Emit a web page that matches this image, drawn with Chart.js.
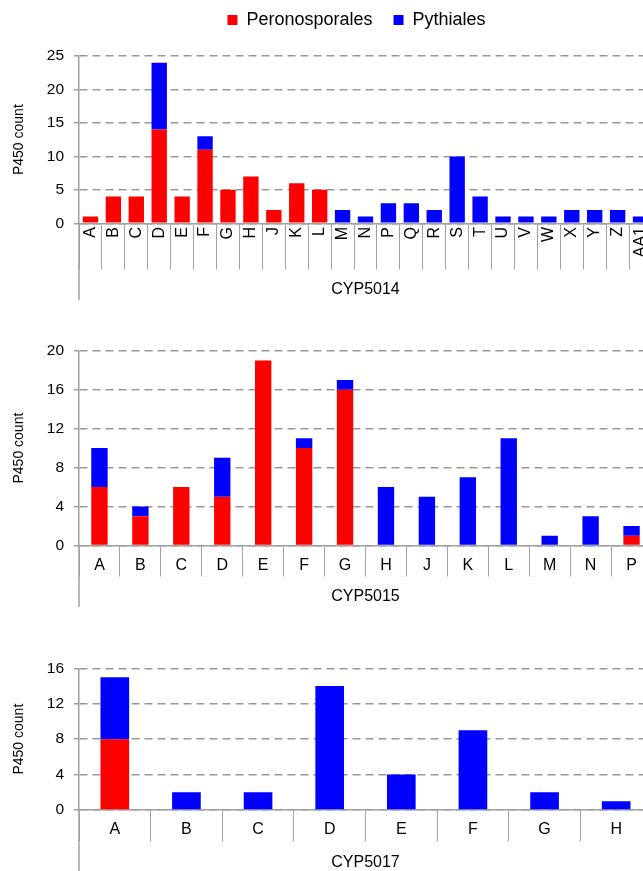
<!DOCTYPE html>
<html>
<head>
<meta charset="utf-8">
<script src="https://cdn.jsdelivr.net/npm/chart.js@4.4.1/dist/chart.umd.min.js"></script>
<style>
  html, body { margin: 0; padding: 0; background: #fff; overflow: hidden; }
  body { width: 643px; height: 871px; position: relative; }
  canvas { position: absolute; left: 0; }
</style>
</head>
<body>
<canvas id="c5014" width="713" height="305" style="top:0"></canvas>
<canvas id="c5015" width="713" height="305" style="top:310px"></canvas>
<canvas id="c5017" width="713" height="251" style="top:620px"></canvas>
<script>
// CYP5014 families
const cyp5014Labels = ['A','B','C','D','E','F','G','H','J','K','L','M','N','P','Q','R','S','T','U','V','W','X','Y','Z','AA1'];
const cyp5014Perono = [1,4,4,14,4,11,5,7,2,6,5,0,0,0,0,0,0,0,0,0,0,0,0,0,0];
const cyp5014Pythi  = [0,0,0,10,0,2,0,0,0,0,0,2,1,3,3,2,10,4,1,1,1,2,2,2,1];

// CYP5015 families
const cyp5015Labels = ['A','B','C','D','E','F','G','H','J','K','L','M','N','P'];
const cyp5015Perono = [6,3,6,5,19,10,16,0,0,0,0,0,0,1];
const cyp5015Pythi  = [4,1,0,4,0,1,1,6,5,7,11,1,3,1];

// CYP5017 families
const cyp5017Labels = ['A','B','C','D','E','F','G','H'];
const cyp5017Perono = [8,0,0,0,0,0,0,0];
const cyp5017Pythi  = [7,2,2,14,4,9,2,1];

const FONT = 'Liberation Sans, Arial, sans-serif';
const GRAY = '#a0a0a0';

// y axis line carried on down past the category labels
const axisTail = {
    id: 'axisTail',
    afterDraw(chart, args, opts) {
        const { ctx, chartArea } = chart;
        ctx.save();
        ctx.strokeStyle = GRAY;
        ctx.lineWidth = 1.5;
        ctx.beginPath();
        ctx.moveTo(chartArea.left, chartArea.bottom);
        ctx.lineTo(chartArea.left, opts.to);
        ctx.stroke();
        ctx.restore();
    }
};

function makeChart(id, labels, perono, pythi, cfg) {
    const scales = {
        x: {
            type: 'category',
            stacked: true,
            offset: true,
            grid: { offset: true, drawOnChartArea: false, tickLength: cfg.tickLen, color: GRAY, lineWidth: 1 },
            border: { display: true, color: GRAY, width: 1.5 },
            ticks: {
                autoSkip: false,
                minRotation: cfg.rotate,
                maxRotation: cfg.rotate,
                padding: cfg.labelPad,
                color: '#000',
                font: { family: FONT, size: cfg.xFont }
            },
            title: {
                display: true,
                text: cfg.title,
                color: '#000',
                font: { family: FONT, size: 16, lineHeight: 1 },
                padding: { top: 0, bottom: cfg.titlePad }
            },
            afterFit: s => { s.height = cfg.xHeight; }
        },
        y: {
            stacked: true,
            min: 0,
            max: cfg.yMax,
            grid: { color: '#999', lineWidth: 1.5, tickLength: 5, tickColor: GRAY, tickWidth: 1.5 },
            border: { display: true, color: GRAY, width: 1.5, dash: [8, 5] },
            ticks: {
                stepSize: cfg.yStep,
                padding: 10,
                color: '#000',
                font: { family: FONT, size: 15.5 }
            },
            title: {
                display: true,
                text: 'P450 count',
                color: '#000',
                font: { family: FONT, size: 14, lineHeight: 1 },
                padding: { top: 12, bottom: 0 }
            },
            afterFit: s => { s.width = 79; }
        },
        // empty right-hand space so the plot runs past the cropped edge
        spaceRight: {
            type: 'linear',
            position: 'right',
            grid: { display: false },
            border: { display: false },
            ticks: { display: false },
            afterFit: s => { s.width = 61; }
        }
    };
    if (cfg.legend) {
        // empty band between legend and plot
        scales.spaceTop = {
            type: 'linear',
            position: 'top',
            grid: { display: false },
            border: { display: false },
            ticks: { display: false },
            afterFit: s => { s.height = cfg.gapTop; }
        };
    }

    return new Chart(document.getElementById(id), {
        type: 'bar',
        data: {
            labels: labels,
            datasets: [
                { label: 'Peronosporales', data: perono, backgroundColor: '#ff0000', xAxisID: 'x', yAxisID: 'y',
                  barPercentage: cfg.barPct, categoryPercentage: 1, borderWidth: 0 },
                { label: 'Pythiales', data: pythi, backgroundColor: '#0000ff', xAxisID: 'x', yAxisID: 'y',
                  barPercentage: cfg.barPct, categoryPercentage: 1, borderWidth: 0 }
            ]
        },
        options: {
            responsive: false,
            animation: false,
            devicePixelRatio: 1,
            layout: { padding: { top: cfg.padTop, left: 0, right: 0, bottom: 0 } },
            scales: scales,
            plugins: {
                legend: {
                    display: !!cfg.legend,
                    position: 'top',
                    labels: {
                        boxWidth: 10,
                        boxHeight: 10,
                        padding: 21,
                        color: '#000',
                        font: { family: FONT, size: 18 }
                    }
                },
                tooltip: { enabled: false },
                axisTail: { to: cfg.tailTo }
            }
        },
        plugins: [axisTail]
    });
}

makeChart('c5014', cyp5014Labels, cyp5014Perono, cyp5014Pythi, {
    yMax: 25, yStep: 5, barPct: 0.67, tickLen: 46, labelPad: -42.3, rotate: 90, xFont: 16,
    xHeight: 81.7, title: 'CYP5014', titlePad: 7, padTop: -10, legend: true, gapTop: 17, tailTo: 300
});
makeChart('c5015', cyp5015Labels, cyp5015Perono, cyp5015Pythi, {
    yMax: 20, yStep: 4, barPct: 0.4, tickLen: 31, labelPad: -20.6, rotate: 0, xFont: 16,
    xHeight: 69.5, title: 'CYP5015', titlePad: 10.3, padTop: 40.7, tailTo: 297
});
makeChart('c5017', cyp5017Labels, cyp5017Perono, cyp5017Pythi, {
    yMax: 16, yStep: 4, barPct: 0.4, tickLen: 31, labelPad: -20.6, rotate: 0, xFont: 16,
    xHeight: 61, title: 'CYP5017', titlePad: 0.3, padTop: 48.3, tailTo: 251
});
</script>
</body>
</html>
